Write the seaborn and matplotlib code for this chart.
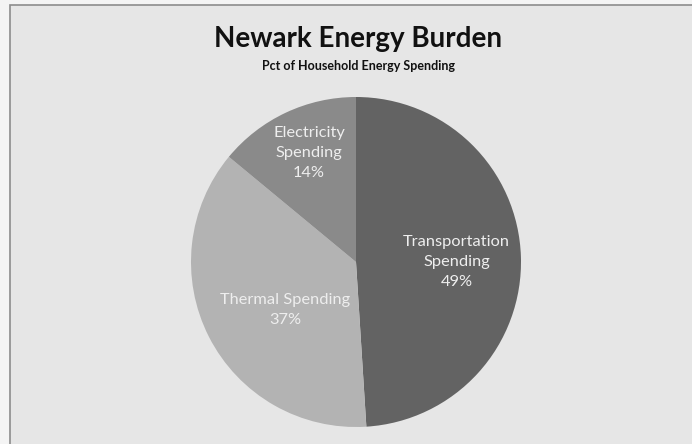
import numpy as np
import seaborn as sns
import matplotlib.pyplot as plt
from matplotlib.patches import Rectangle

# data
categories = ["Transportation\nSpending", "Thermal Spending", "Electricity\nSpending"]
shares = [49, 37, 14]
slice_colors = ["#636363", "#b3b3b3", "#8a8a8a"]
label_radius = [0.61, 0.52, 0.72]
label_shift = [-2, 7, -2]   # degrees, nudge of label from wedge middle

sns.set_style("white")
plt.rcParams["font.family"] = ["Lato", "DejaVu Sans"]

fig = plt.figure(figsize=(6.92, 4.44), dpi=100)
fig.patch.set_facecolor("#f4f4f4")

# chart area box (cropped on the right / bottom in the reference)
fig.patches.append(Rectangle((10 / 692, -0.01), 1.0, 1.01 - 5 / 444, transform=fig.transFigure,
                             facecolor="#e6e6e6", edgecolor="#8c8c8c", linewidth=1.2,
                             zorder=-10))

ax = fig.add_axes([(356 - 165) / 692, (444 - 262 - 165) / 444, 330 / 692, 330 / 444])
ax.set_facecolor("none")

wedges, _ = ax.pie(shares, colors=slice_colors, startangle=90, counterclock=False,
                   labeldistance=None, wedgeprops=dict(linewidth=0))
ax.set_xlim(-1, 1)
ax.set_ylim(-1, 1)
ax.set_aspect("equal")

for w, cat, pct, r, s in zip(wedges, categories, shares, label_radius, label_shift):
    mid = np.deg2rad((w.theta1 + w.theta2) / 2 + s)
    ax.text(r * np.cos(mid), r * np.sin(mid), f"{cat}\n{pct}%", ha="center", va="center",
            color="#eeeeee", fontsize=11.8, linespacing=1.55)

fig.text(358 / 692, 1 - 39 / 444, "Newark Energy Burden", ha="center", va="center",
         fontsize=20, fontweight="bold", color="#111111")
fig.text(358 / 692, 1 - 66 / 444, "Pct of Household Energy Spending", ha="center",
         va="center", fontsize=9, fontweight="bold", color="#111111")

fig.savefig("out.png", dpi=100, facecolor=fig.get_facecolor())
